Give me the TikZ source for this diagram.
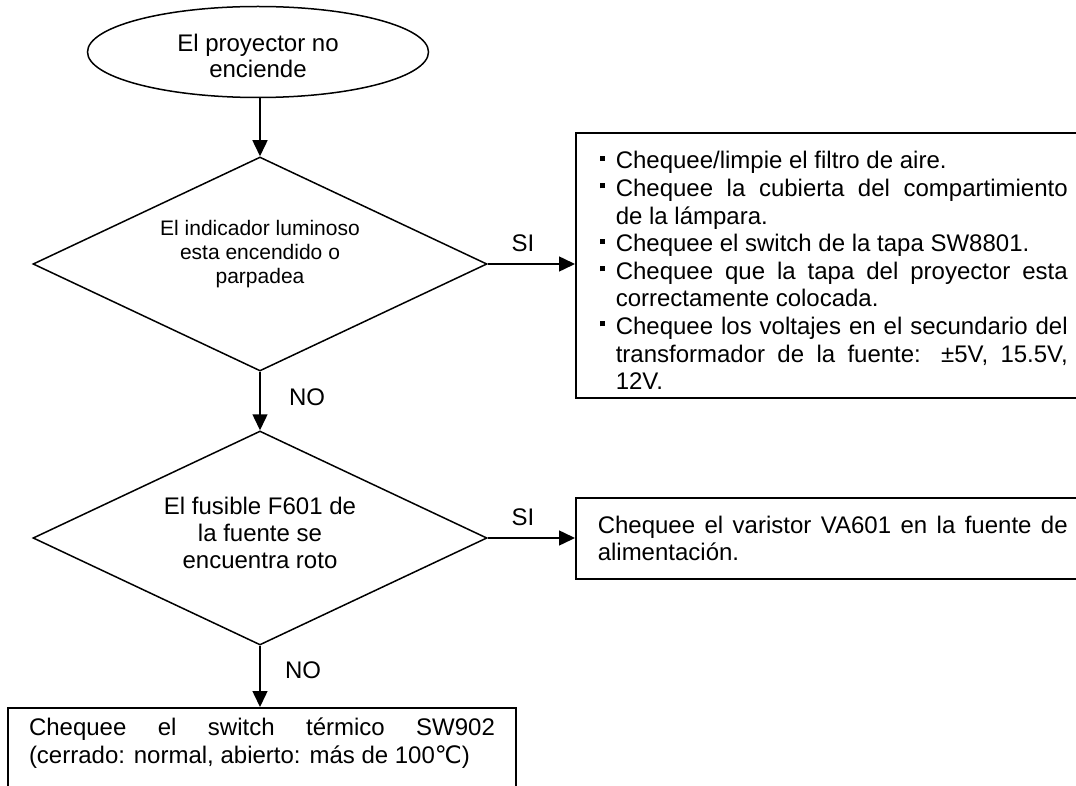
\documentclass[tikz,border=0pt]{standalone}
\usepackage{fontspec}
\setmainfont{Liberation Sans}
\newfontfamily\dejavu{DejaVu Sans}
\usetikzlibrary{shapes.geometric,arrows.meta}
\newcommand\bul{\makebox[8pt][l]{\raisebox{4pt}{\rule{2.5pt}{2.5pt}}}}
\newcommand\bitem[1]{\par\hangindent=8pt\hangafter=1\noindent\bul#1\par}
\tolerance=10000
\hyphenpenalty=10000
\begin{document}
\begin{tikzpicture}[x=0.5pt,y=-0.5pt,
  line width=0.75pt,
  ell/.style={draw, ellipse, inner sep=0pt, minimum width=170.5pt, minimum height=45.5pt},
  dia/.style={draw, diamond, inner sep=0pt, minimum width=227pt, minimum height=107pt},
  txt/.style={inner sep=0pt, align=center, font=\fontsize{12pt}{13pt}\selectfont},
  lbl/.style={inner sep=0pt, font=\fontsize{12pt}{13.8pt}\selectfont},
  box/.style={draw, inner ysep=0pt, align=justify, font=\fontsize{12pt}{13.8pt}\selectfont},
  arr/.style={-{Triangle[length=8pt,width=7.5pt]}}
]
\useasboundingbox (0,0) rectangle (1076,786);
\clip (0,0) rectangle (1076,786);

\node[ell] (e) at (258,52) {};
\node[txt] (et) at (258,56) {El proyector no\\enciende};

\node[dia] (d1) at (260,264) {};
\node[txt, font=\fontsize{10.5pt}{12pt}\selectfont] (d1t) at (260,254) {El indicador luminoso\\esta encendido o\\parpadea};

\node[dia] (d2) at (260,538) {};
\node[txt, font=\fontsize{12pt}{13.3pt}\selectfont] (d2t) at (260,533) {El fusible F601 de\\la fuente se\\encuentra roto};

\node[box, text width=234pt, inner xsep=12pt, minimum height=132.5pt, anchor=west] (b1) at (575,265.5) {%
\bitem{Chequee/limpie el filtro de aire.}
\bitem{Chequee la cubierta del compartimiento\linebreak de la lámpara.}
\bitem{Chequee el switch de la tapa SW8801.}
\bitem{Chequee que la tapa del proyector esta\linebreak correctamente colocada.}
\bitem{Chequee los voltajes en el secundario del\linebreak transformador de la fuente: ±5V, 15.5V,\linebreak 12V.}};

\node[box, text width=235pt, inner xsep=11pt, minimum height=40.5pt, anchor=west] (b2) at (575,538.5) {%
Chequee el varistor VA601 en la fuente de\linebreak alimentación.};

\node[box, text width=233pt, inner xsep=10.5pt, inner ysep=5pt, anchor=north] (b3) at (262,707) {%
Chequee el switch térmico SW902\linebreak (cerrado: normal, abierto: más de 100{\dejavu ℃})\par\noindent\rule{0pt}{30pt}};

\draw[arr] (e.south -| d1.north) -- (d1.north);
\draw[arr] (d1.south) -- (d2.north);
\draw[arr] (d2.south) -- (d2.south |- b3.north);
\draw[arr] (d1.east) -- (d1.east -| b1.west);
\draw[arr] (d2.east) -- (d2.east -| b2.west);

\node[lbl] (si1) at (523,243) {SI};
\node[lbl] (si2) at (523,517) {SI};
\node[lbl] (no1) at (307,397) {NO};
\node[lbl] (no2) at (303,670) {NO};
\end{tikzpicture}
\end{document}
